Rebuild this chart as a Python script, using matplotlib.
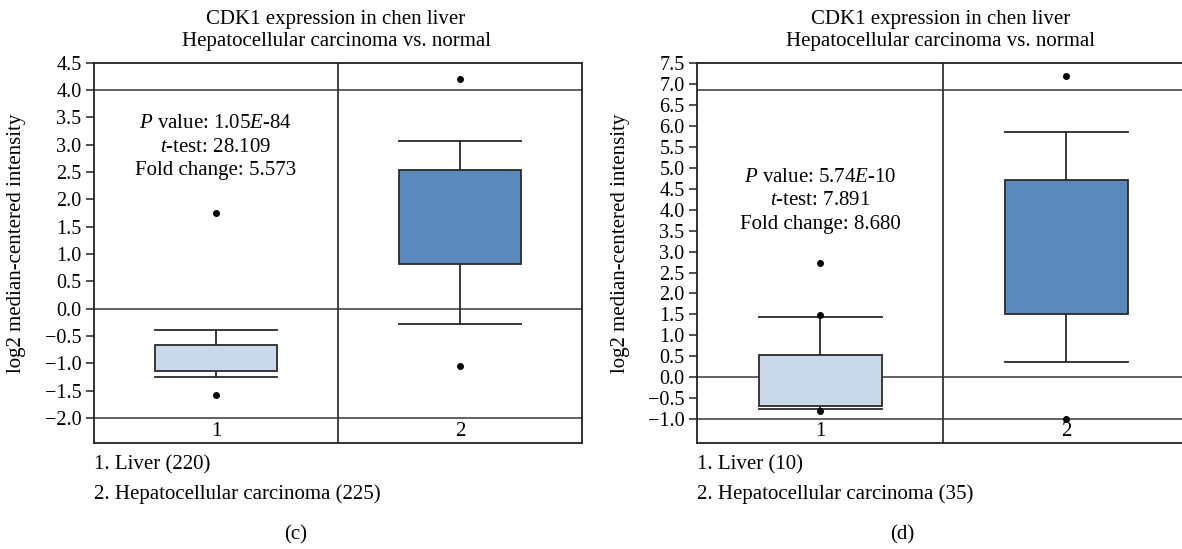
import matplotlib
matplotlib.use("Agg")
import matplotlib.pyplot as plt
from matplotlib.ticker import FuncFormatter
import matplotlib.transforms as mtrans

plt.rcParams['font.family'] = ['Liberation Serif', 'DejaVu Serif']
plt.rcParams['mathtext.fontset'] = 'custom'
plt.rcParams['mathtext.rm'] = 'Liberation Serif'
plt.rcParams['mathtext.it'] = 'Liberation Serif:italic'

# ---------------- data ----------------
title = "CDK1 expression in chen liver\nHepatocellular carcinoma vs. normal"
ylabel = "log2 median-centered intensity"
categories = ["1", "2"]

# panel (c)
c_whislo = [-1.25, -0.27]
c_q1 = [-1.14, 0.82]
c_med = [-0.92, 1.75]
c_q3 = [-0.66, 2.53]
c_whishi = [-0.38, 3.07]
c_fliers = [[1.75, -1.58], [4.20, -1.04]]
c_yticks = [-2.0, -1.5, -1.0, -0.5, 0.0, 0.5, 1.0, 1.5, 2.0, 2.5, 3.0, 3.5, 4.0, 4.5]
c_ylim = (-2.46, 4.5)
c_reflines = [4.0, 0.0, -2.0]
c_stats = [r"$P$ value: 1.05$E$-84", r"$t$-test: 28.109", "Fold change: 5.573"]
c_legend = ["1. Liver (220)", "2. Hepatocellular carcinoma (225)"]

# panel (d)
d_whislo = [-0.77, 0.37]
d_q1 = [-0.69, 1.50]
d_med = [0.0, 3.29]
d_q3 = [0.52, 4.72]
d_whishi = [1.43, 5.86]
d_fliers = [[2.74, 1.49, -0.80], [7.20, -1.00]]
d_yticks = [-1.0, -0.5, 0.0, 0.5, 1.0, 1.5, 2.0, 2.5, 3.0, 3.5, 4.0, 4.5,
            5.0, 5.5, 6.0, 6.5, 7.0, 7.5]
d_ylim = (-1.58, 7.5)
d_reflines = [6.87, 0.0, -1.0]
d_stats = [r"$P$ value: 5.74$E$-10", r"$t$-test: 7.891", "Fold change: 8.680"]
d_legend = ["1. Liver (10)", "2. Hepatocellular carcinoma (35)"]

box_colors = ["#c9d9ea", "#5b89bb"]

W, H = 1182, 549
FS = 15
TFS = 14.5
fig = plt.figure(figsize=(W / 100, H / 100), dpi=100)


def px_axes(x0, x1, ytop, ybot):
    return fig.add_axes([x0 / W, 1 - ybot / H, (x1 - x0) / W, (ybot - ytop) / H])


def fmt(v, pos):
    return f"{v:.1f}".replace("-", "\u2212")


def panel(ax, whislo, q1, med, q3, whishi, fliers, yticks, ylim, reflines,
          stats_lines, stats_y, legend, letter, letter_x, ylabel_x, title_x):
    edge = "#2a2a2a"
    stats = []
    for i in range(len(categories)):
        stats.append(dict(whislo=whislo[i], q1=q1[i], med=med[i], q3=q3[i],
                          whishi=whishi[i], fliers=fliers[i]))
    bp = ax.bxp(stats, positions=[1, 2], widths=0.5, capwidths=0.5,
                patch_artist=True, showfliers=True,
                boxprops=dict(edgecolor=edge, linewidth=1.3),
                medianprops=dict(color=edge, linewidth=1.3),
                whiskerprops=dict(color=edge, linewidth=1.3),
                capprops=dict(color=edge, linewidth=1.3),
                flierprops=dict(marker="o", markersize=4, markerfacecolor="black",
                                markeredgecolor="black"))
    for patch, col in zip(bp["boxes"], box_colors):
        patch.set_facecolor(col)
    for b in bp["boxes"]:
        b.set_zorder(3)
    for y in reflines:
        ax.axhline(y, color="#555555", linewidth=1.3, zorder=1)
    ax.axvline(1.5, color="#333333", linewidth=1.3, zorder=1)
    ax.set_xlim(0.5, 2.5)
    ax.set_ylim(*ylim)
    ax.set_yticks(yticks)
    ax.yaxis.set_major_formatter(FuncFormatter(fmt))
    ax.tick_params(axis="y", length=6, width=1.2, pad=3, labelsize=TFS,
                   color="#333333")
    ax.set_xticks([])
    for s in ax.spines.values():
        s.set_color("#222222")
        s.set_linewidth(1.3)
    trans = mtrans.blended_transform_factory(ax.transData, ax.transAxes)
    for i, c in enumerate(categories):
        ax.text(i + 1, 0.03, c, transform=trans, ha="center", va="center",
                fontsize=FS)
    fig.text(title_x / W, 1 - 30.8 / H, title, ha="center", va="center",
             fontsize=FS, linespacing=1.2)
    ax.set_ylabel(ylabel, fontsize=FS)
    ax.yaxis.set_label_coords(ylabel_x, 0.525)
    # stats text
    for k, line in enumerate(stats_lines):
        ax.text(1.0, stats_y - k * 0.0617, line, transform=trans, ha="center",
                va="center", fontsize=FS)
    # legend text below
    pos = ax.get_position()
    fig.text(pos.x0, 1 - 465 / H, legend[0], ha="left", va="center", fontsize=FS)
    fig.text(pos.x0, 1 - 494 / H, legend[1], ha="left", va="center", fontsize=FS)
    fig.text(letter_x / W, 1 - 535 / H, letter, ha="center", va="center",
             fontsize=FS)


ax1 = px_axes(94, 582, 62.7, 443.3)
panel(ax1, c_whislo, c_q1, c_med, c_q3, c_whishi, c_fliers, c_yticks, c_ylim,
      c_reflines, c_stats, 0.839, c_legend, "(c)", 296, -0.139, 336)

ax2 = px_axes(697, 1189, 63.3, 443.3)
panel(ax2, d_whislo, d_q1, d_med, d_q3, d_whishi, d_fliers, d_yticks, d_ylim,
      d_reflines, d_stats, 0.70, d_legend, "(d)", 902, -0.136, 941)

fig.savefig("out.png", dpi=100, facecolor="white")
